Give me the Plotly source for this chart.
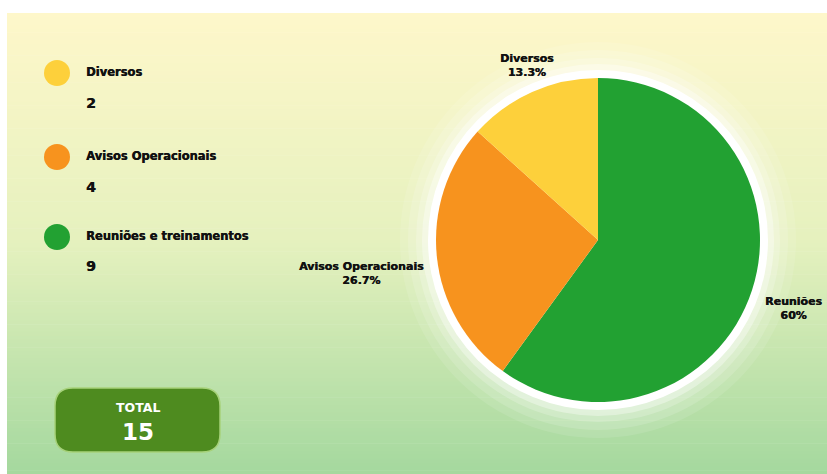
import math
import plotly.graph_objects as go

# ---- data ----
categories = ["Reuniões e treinamentos", "Avisos Operacionais", "Diversos"]
short_labels = ["Reuniões", "Avisos Operacionais", "Diversos"]
values = [9, 4, 2]
colors = ["#22A132", "#F7931E", "#FDD03B"]
legend_order = [2, 1, 0]  # legend shows Diversos, Avisos, Reuniões
total_label = "TOTAL"

W, H = 827, 474
FONT = "DejaVu Sans"
HEAVY = "0.45px 0px 0px #111111"

fig = go.Figure()

# pixel-space axes for decorations
fig.update_xaxes(range=[0, W], visible=False, fixedrange=True)
fig.update_yaxes(range=[H, 0], visible=False, fixedrange=True)
fig.add_trace(go.Scatter(x=[0, W], y=[0, H], mode="markers", marker=dict(opacity=0),
                         hoverinfo="skip", showlegend=False))

shapes = []

def lerp(c1, c2, t):
    return tuple(round(a + (b - a) * t) for a, b in zip(c1, c2))

# background gradient (bands)
stops = [(0.0, (254, 247, 202)), (0.5, (229, 241, 190)), (1.0, (164, 216, 158))]
bg_top, bg_left, bg_bottom = 13, 7, H
n = 120
for i in range(n):
    t = (i + 0.5) / n
    for (t0, c0), (t1, c1) in zip(stops[:-1], stops[1:]):
        if t0 <= t <= t1:
            c = lerp(c0, c1, (t - t0) / (t1 - t0))
            break
    y0 = bg_top + (bg_bottom - bg_top) * i / n
    y1 = bg_top + (bg_bottom - bg_top) * (i + 1) / n + 0.6
    shapes.append(dict(type="rect", xref="x", yref="y", x0=bg_left, x1=W, y0=y0, y1=y1,
                       fillcolor="rgb(%d,%d,%d)" % c, line=dict(width=0), layer="below"))

# pie geometry (px)
cx, cy, r = 598, 240, 162
for rr, op in [(198, 0.10), (190, 0.14), (182, 0.2), (176, 0.35)]:
    shapes.append(dict(type="circle", xref="x", yref="y", x0=cx - rr, x1=cx + rr, y0=cy - rr, y1=cy + rr,
                       fillcolor="rgba(255,255,255,%.2f)" % op, line=dict(width=0), layer="below"))
shapes.append(dict(type="circle", xref="x", yref="y", x0=cx - 170, x1=cx + 170, y0=cy - 170, y1=cy + 170,
                   fillcolor="white", line=dict(width=0), layer="below"))

annotations = []

# legend
leg_y = [73, 157, 237]
num_dy = [30, 30, 29]
for k, idx in enumerate(legend_order):
    y = leg_y[k]
    shapes.append(dict(type="circle", xref="x", yref="y", x0=57 - 13, x1=57 + 13, y0=y - 13, y1=y + 13,
                       fillcolor=colors[idx], line=dict(width=0), layer="above"))
    annotations.append(dict(x=84, y=y - 1, xref="x", yref="y", text="<b>%s</b>" % categories[idx],
                            showarrow=False, xanchor="left", yanchor="middle",
                            font=dict(family=FONT, size=11.5, color="#111111", shadow=HEAVY)))
    annotations.append(dict(x=84, y=y + num_dy[k], xref="x", yref="y", text="<b>%d</b>" % values[idx],
                            showarrow=False, xanchor="left", yanchor="middle",
                            font=dict(family=FONT, size=14, color="#111111", shadow=HEAVY)))

# total box (rounded rect)
x0, x1, y0, y1, rad = 55, 220, 388, 452, 18
path = (f"M {x0+rad} {y0} L {x1-rad} {y0} Q {x1} {y0} {x1} {y0+rad} L {x1} {y1-rad} Q {x1} {y1} {x1-rad} {y1} "
        f"L {x0+rad} {y1} Q {x0} {y1} {x0} {y1-rad} L {x0} {y0+rad} Q {x0} {y0} {x0+rad} {y0} Z")
shapes.append(dict(type="path", xref="x", yref="y", path=path, fillcolor="#4E8B1F",
                   line=dict(color="#A7D27A", width=1.5), layer="above"))
annotations.append(dict(x=(x0 + x1) / 2, y=407, xref="x", yref="y", text="<b>%s</b>" % total_label,
                        showarrow=False, font=dict(family=FONT, size=12.5, color="white")))
annotations.append(dict(x=(x0 + x1) / 2, y=432, xref="x", yref="y", text="<b>%d</b>" % sum(values),
                        showarrow=False, font=dict(family=FONT, size=23, color="white")))

# pie (domain in paper fractions)
fig.add_trace(go.Pie(
    labels=categories, values=values, sort=False, direction="clockwise", rotation=0,
    marker=dict(colors=colors, line=dict(width=0)),
    textinfo="none",
    domain=dict(x=[(cx - r) / W, (cx + r) / W], y=[(H - cy - r) / H, (H - cy + r) / H]),
    showlegend=False, hoverinfo="label+value+percent",
))

# outside slice labels, placed at each slice's mid-angle
tot = sum(values)
cum = 0
for lab, v in zip(short_labels, values):
    mid = (cum + v / 2) / tot * 2 * math.pi  # clockwise from 12 o'clock
    cum += v
    s, c = math.sin(mid), math.cos(mid)
    pct = v / tot * 100
    pct_txt = ("%.1f" % pct).rstrip("0").rstrip(".") + "%"
    if abs(s) > 0.6:
        R = 173
        xa, ya = ("left" if s > 0 else "right"), "top"
    else:
        R = 174
        xa, ya = "center", ("bottom" if c > 0 else "top")
    ax, ay = cx + R * s, cy - R * c
    annotations.append(dict(x=ax, y=ay, xref="x", yref="y", text="<b>%s</b><br><b>%s</b>" % (lab, pct_txt),
                            showarrow=False, xanchor=xa, yanchor=ya, align="center",
                            font=dict(family=FONT, size=11, color="#111111", shadow=HEAVY)))

fig.update_layout(
    width=W, height=H, margin=dict(l=0, r=0, t=0, b=0),
    paper_bgcolor="white", plot_bgcolor="rgba(0,0,0,0)",
    shapes=shapes, annotations=annotations, showlegend=False,
)

fig.write_html(
    "out.html",
    config={"displayModeBar": False},
    post_script="document.body.style.margin='0';document.documentElement.style.overflow='hidden';",
)
